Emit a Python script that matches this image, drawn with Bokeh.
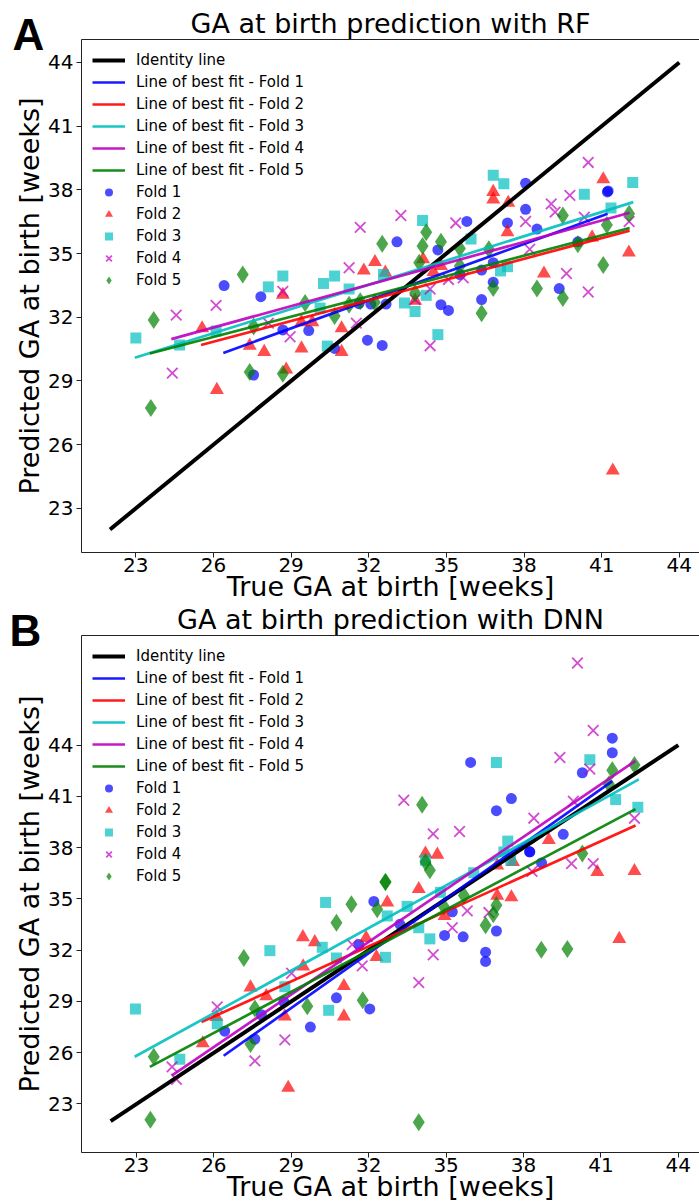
from bokeh.plotting import figure
from bokeh.models import (Range1d, FixedTicker, LinearAxis, Legend, LegendItem, Title)
from bokeh.layouts import column
from bokeh.embed import file_html
from bokeh.resources import INLINE

# ---------------- data ----------------
TICKS = [23, 26, 29, 32, 35, 38, 41, 44]
TICK_LABELS = ["23", "26", "29", "32", "35", "38", "41", "44"]
IDENTITY = [22, 44]
FOLD_NAMES = ["Fold 1", "Fold 2", "Fold 3", "Fold 4", "Fold 5"]
FIT_NAMES = ["Line of best fit - Fold 1", "Line of best fit - Fold 2", "Line of best fit - Fold 3",
             "Line of best fit - Fold 4", "Line of best fit - Fold 5"]
IDENTITY_NAME = "Identity line"
TITLE_A = "GA at birth prediction with RF"
TITLE_B = "GA at birth prediction with DNN"
XLABEL = "True GA at birth [weeks]"
YLABEL = "Predicted GA at birth [weeks]"
LETTERS = ["A", "B"]

# Panel A (RF)
a_f1_x = [26.41, 27.83, 28.68, 29.68, 27.55, 30.68, 31.95, 32.52, 32.08, 32.67, 31.62, 33.09, 34.67, 34.79, 35.08,
          35.52, 35.79, 36.36, 36.36, 36.81, 36.81, 37.36, 38.06, 38.06, 38.50, 39.36, 40.08, 41.22, 41.25]
a_f1_y = [33.49, 32.97, 31.40, 31.37, 29.28, 30.53, 30.92, 30.67, 32.62, 32.62, 32.64, 35.55, 35.17, 32.59, 32.32,
          34.01, 36.51, 34.22, 32.83, 33.65, 34.57, 36.44, 37.08, 38.31, 36.15, 33.35, 35.55, 37.90, 37.95]
a_f2_x = [25.56, 26.13, 27.40, 27.96, 28.68, 28.81, 29.40, 29.40, 29.82, 30.95, 30.95, 31.81, 32.24, 32.64, 33.79,
          34.10, 34.50, 34.79, 36.81, 36.81, 37.39, 37.36, 38.77, 40.63, 41.06, 42.05, 41.43]
a_f2_y = [31.48, 28.58, 30.66, 30.37, 33.06, 29.54, 30.53, 31.77, 31.77, 31.48, 30.37, 34.20, 34.60, 34.10, 32.78,
          34.73, 34.13, 34.41, 37.90, 37.55, 37.39, 36.00, 34.06, 35.76, 38.50, 35.05, 24.78]
a_f3_x = [23.00, 24.69, 26.10, 28.12, 28.68, 30.25, 30.68, 31.24, 30.12, 30.40, 32.57, 33.38, 33.79, 34.08, 34.22,
          34.67, 35.95, 36.81, 37.22, 37.09, 37.36, 40.33, 41.36, 42.20]
a_f3_y = [31.02, 30.69, 31.35, 33.43, 33.94, 33.59, 33.94, 33.33, 32.43, 30.64, 34.01, 32.67, 32.27, 36.55, 33.03,
          31.18, 35.68, 38.69, 38.29, 34.18, 34.38, 37.79, 37.14, 38.34]
a_f4_x = [24.41, 24.56, 26.10, 28.68, 28.96, 28.12, 31.24, 31.67, 31.52, 33.24, 34.37, 34.37, 35.08, 35.36, 35.65,
          33.79, 38.06, 38.22, 39.05, 39.20, 39.64, 39.77, 40.33, 40.48, 40.48, 42.06]
a_f4_y = [29.37, 32.10, 32.56, 33.22, 31.08, 31.72, 34.33, 36.23, 31.72, 36.79, 33.33, 30.66, 33.78, 36.44, 33.86,
          32.83, 36.51, 35.20, 37.34, 36.95, 34.06, 37.74, 36.71, 39.29, 33.19, 36.51]
a_f5_x = [23.58, 23.69, 27.13, 27.55, 27.40, 28.68, 29.54, 30.68, 31.24, 31.67, 32.52, 32.23, 33.95, 34.08, 34.22,
          34.79, 33.79, 35.52, 35.52, 36.36, 36.64, 36.81, 38.50, 39.50, 39.50, 40.08, 41.06, 41.20, 42.06]
a_f5_y = [27.72, 31.87, 34.01, 31.56, 29.42, 29.34, 32.67, 32.06, 32.59, 32.75, 35.46, 32.70, 34.57, 35.36, 36.00,
          35.55, 33.14, 35.24, 34.41, 32.19, 35.20, 33.38, 33.35, 36.79, 32.91, 35.44, 34.46, 36.34, 36.87]
a_fit_x = [[26.38, 41.23], [25.52, 42.08], [22.96, 42.22], [24.37, 42.08], [23.54, 42.08]]
a_fit_y = [[30.32, 36.87], [30.69, 36.08], [30.09, 37.42], [30.97, 36.92], [30.29, 36.20]]

# Panel B (DNN)
b_f1_x = [32.20, 31.62, 30.75, 32.04, 29.74, 27.84, 26.42, 27.59, 28.71, 35.95, 36.95, 37.53, 38.24, 38.24, 38.70,
          39.54, 40.28, 41.44, 41.44, 35.24, 34.94, 35.66, 36.95, 36.53, 36.53, 33.21]
b_f1_y = [34.85, 32.33, 29.21, 28.56, 27.50, 28.22, 27.26, 26.80, 28.98, 42.98, 40.16, 40.87, 37.75, 37.75, 37.10,
          38.78, 42.38, 44.40, 43.55, 34.24, 32.86, 32.78, 33.12, 31.88, 31.34, 33.51]
b_f2_x = [32.72, 29.45, 29.91, 31.90, 32.30, 29.46, 27.42, 28.03, 31.04, 31.04, 28.75, 26.10, 25.57, 28.88, 34.20,
          34.66, 33.94, 36.98, 37.53, 38.98, 40.86, 42.30, 36.98, 37.59, 34.94, 41.71]
b_f2_y = [34.79, 32.76, 32.47, 32.72, 31.60, 31.05, 29.82, 29.31, 29.90, 28.12, 28.12, 28.09, 26.55, 23.95, 37.65,
          37.59, 35.58, 35.19, 35.09, 38.44, 36.57, 36.63, 36.96, 37.16, 34.00, 32.66]
b_f3_x = [30.33, 32.72, 22.96, 24.68, 28.17, 30.20, 30.75, 30.45, 28.75, 26.13, 32.65, 36.95, 40.57, 41.57, 42.43,
          37.39, 37.24, 37.50, 34.20, 36.07, 34.78, 33.49, 33.94, 34.37]
b_f3_y = [34.79, 34.00, 28.56, 25.62, 31.97, 32.17, 31.54, 28.48, 29.86, 27.69, 31.58, 42.98, 43.14, 40.81, 40.36,
          38.38, 37.75, 37.26, 37.26, 36.53, 35.38, 34.56, 33.31, 32.66]
b_f4_x = [26.13, 29.01, 28.75, 27.59, 24.38, 24.55, 31.36, 31.75, 33.36, 34.50, 35.52, 38.40, 39.41, 40.57, 40.70,
          39.93, 42.30, 39.86, 40.70, 38.33, 35.82, 36.66, 35.24, 34.50, 33.94, 40.09]
b_f4_y = [28.68, 30.65, 26.75, 25.52, 25.17, 24.44, 32.33, 31.08, 40.77, 38.80, 38.94, 39.72, 43.27, 42.59, 44.85,
          40.71, 39.72, 37.06, 37.06, 36.61, 34.30, 34.20, 33.31, 31.73, 30.10, 48.80]
b_f5_x = [31.33, 32.65, 32.65, 32.33, 23.54, 23.67, 27.16, 27.59, 27.42, 29.62, 30.75, 31.77, 34.07, 34.20, 34.37,
          35.69, 36.95, 40.28, 41.44, 42.30, 41.31, 34.91, 36.53, 36.83, 38.69, 39.70, 33.94]
b_f5_y = [34.69, 35.98, 35.98, 34.40, 22.07, 25.76, 31.54, 28.58, 26.51, 28.72, 33.61, 29.07, 40.51, 37.16, 36.67,
          35.19, 34.63, 37.65, 42.53, 42.84, 41.70, 34.56, 33.45, 34.10, 32.03, 32.07, 21.93]
b_fit_x = [[26.38, 41.44], [25.52, 42.34], [22.93, 42.47], [24.38, 42.34], [23.52, 42.34]]
b_fit_y = [[25.82, 41.89], [27.79, 39.29], [25.76, 41.99], [24.67, 43.08], [25.17, 40.25]]

# ---------------- style ----------------
FONT = "DejaVu Sans"
COLORS = ["#0000ff", "#ff0000", "#00bfbf", "#bf00bf", "#008000"]
MARKERS = ["circle", "triangle", "square", "x", "diamond"]
SIZES = [11, 14, 11, 15, 18]
AX = "#222222"


def make_panel(letter, title, xs, ys, fit_x, fit_y, xr, yr, height, bl, bt):
    p = figure(width=699, height=height, x_range=Range1d(*xr), y_range=Range1d(*yr),
               output_backend="svg", toolbar_location=None, title=None,
               min_border_left=bl, min_border_right=0, min_border_top=bt, min_border_bottom=50)
    p.grid.visible = False
    p.outline_line_color = None
    p.background_fill_color = "white"
    p.border_fill_color = "white"
    for ax in (p.xaxis[0], p.yaxis[0]):
        ax.ticker = FixedTicker(ticks=TICKS)
        ax.major_label_overrides = {t: l for t, l in zip(TICKS, TICK_LABELS)}
        ax.major_label_text_font = FONT
        ax.major_label_text_font_size = "20px"
        ax.major_label_text_color = "black"
        ax.axis_line_color = AX
        ax.axis_line_width = 1
        ax.major_tick_line_color = AX
        ax.major_tick_out = 5
        ax.major_tick_in = 0
        ax.minor_tick_out = 0
        ax.minor_tick_in = 0
        ax.axis_label_text_font = FONT
        ax.axis_label_text_font_size = "27px"
        ax.axis_label_text_font_style = "normal"
        ax.axis_label_text_color = "black"
    p.xaxis[0].axis_label = XLABEL
    p.yaxis[0].axis_label = YLABEL
    p.xaxis[0].major_label_standoff = 0
    p.yaxis[0].major_label_standoff = 3
    p.xaxis[0].axis_label_standoff = -4
    p.yaxis[0].axis_label_standoff = 0
    top_axis = LinearAxis(ticker=FixedTicker(ticks=[]), axis_line_color=AX, axis_line_width=1,
                          major_tick_out=0, major_tick_in=0, minor_tick_out=0, minor_tick_in=0,
                          major_label_standoff=0, axis_label_standoff=0)
    p.add_layout(top_axis, "above")
    # panel letter: thin title row next to the frame, shifted left into the border
    p.add_layout(Title(text=letter, align="left", offset=-(bl - 9), text_font="Liberation Sans",
                       text_font_size="44px", text_font_style="bold", text_color="black",
                       standoff=-38), "above")
    p.add_layout(Title(text=title, align="center", text_font=FONT, text_font_size="27px",
                       text_font_style="normal", text_color="black", standoff=-24), "above")

    scat = []
    for i in range(5):
        c = COLORS[i]
        if MARKERS[i] == "x":
            r = p.scatter(xs[i], ys[i], marker="x", size=SIZES[i], line_color=c, line_alpha=0.7, line_width=1.8)
        else:
            r = p.scatter(xs[i], ys[i], marker=MARKERS[i], size=SIZES[i], fill_color=c, fill_alpha=0.7,
                          line_color=None)
        scat.append(r)
    idr = p.line(IDENTITY, IDENTITY, line_color="black", line_width=4)
    fits = []
    for i in range(5):
        fits.append(p.line(fit_x[i], fit_y[i], line_color=COLORS[i], line_width=2.7, line_alpha=0.9))

    items = [LegendItem(label=IDENTITY_NAME, renderers=[idr])]
    items += [LegendItem(label=FIT_NAMES[i], renderers=[fits[i]]) for i in range(5)]
    items += [LegendItem(label=FOLD_NAMES[i], renderers=[scat[i]]) for i in range(5)]
    leg = Legend(items=items, location="top_left", border_line_alpha=0, background_fill_alpha=0,
                 label_text_font=FONT, label_text_font_size="15px", label_text_color="black",
                 glyph_width=33, glyph_height=20, label_height=20, label_standoff=11,
                 spacing=2, margin=10, padding=1)
    p.add_layout(leg)
    return p


pA = make_panel(LETTERS[0], TITLE_A, [a_f1_x, a_f2_x, a_f3_x, a_f4_x, a_f5_x],
                [a_f1_y, a_f2_y, a_f3_y, a_f4_y, a_f5_y],
                a_fit_x, a_fit_y, (20.90, 44.78), (20.92, 45.08), 604, 78, 39)
pB = make_panel(LETTERS[1], TITLE_B, [b_f1_x, b_f2_x, b_f3_x, b_f4_x, b_f5_x],
                [b_f1_y, b_f2_y, b_f3_y, b_f4_y, b_f5_y],
                b_fit_x, b_fit_y, (20.87, 44.82), (20.16, 50.41), 600, 81, 31)

layout = column(pA, pB, spacing=0)
open("out.html", "w").write(file_html(layout, INLINE))
